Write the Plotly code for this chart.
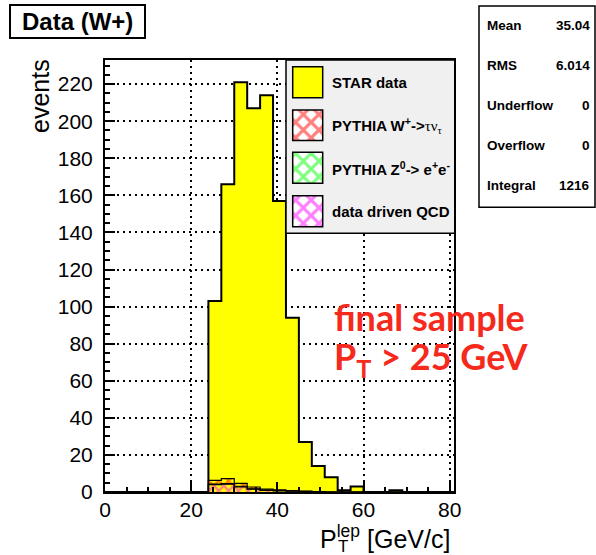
import numpy as np
import plotly.graph_objects as go

# ---------------- data ----------------
bin_width = 3
x_lo, x_hi = 0, 81
bin_edges = np.arange(x_lo, x_hi + bin_width, bin_width)  # 28 edges, 27 bins

star_data = [0, 0, 0, 0, 0, 0, 0, 0, 103, 166, 221, 207, 214, 157, 94, 27, 14, 8, 1, 3, 0, 0, 1, 0, 0, 0, 0]
qcd_data = [0, 0, 0, 0, 0, 0, 0, 0, 4.0, 4.2, 2.8, 1.5, 0.8, 0.6, 0.5, 0.3, 0.2, 0, 0, 0, 0, 0, 0, 0, 0, 0, 0]
z_ee_mc = [0, 0, 0, 0, 0, 0, 0, 0, 0.3, 0.3, 0.3, 0.2, 0.2, 0.2, 0.1, 0, 0, 0, 0, 0, 0, 0, 0, 0, 0, 0, 0]
w_taunu_mc = [0, 0, 0, 0, 0, 0, 0, 0, 2.0, 2.7, 1.6, 1.0, 0.5, 0.3, 0.1, 0, 0, 0, 0, 0, 0, 0, 0, 0, 0, 0, 0]

x_tick_vals = [0, 20, 40, 60, 80]
y_tick_vals = [0, 20, 40, 60, 80, 100, 120, 140, 160, 180, 200, 220]
y_max = 233

stats_labels = ["Mean", "RMS", "Underflow", "Overflow", "Integral"]
stats_values = ["35.04", "6.014", "0", "0", "1216"]

legend_labels = [
    "<b>STAR data</b>",
    "<b>PYTHIA W<sup>+</sup>-></b><span style=\"font-family:'Liberation Serif'\">τν<sub>τ</sub></span>",
    "<b>PYTHIA Z<sup>0</sup>-> e<sup>+</sup>e<sup>-</sup></b>",
    "<b>data driven QCD</b>",
]

# ---------------- geometry ----------------
W, H = 596, 555
ML, MR, MT, MB = 105, 142, 60, 63
PW, PH = W - ML - MR, H - MT - MB


def px(xp):
    return (xp - ML) / PW


def py(yp):
    return (H - MB - yp) / PH


FONT = "Liberation Sans"
YELLOW = "#ffff00"
RED = "#ff0000"
GREEN = "#00ff00"
MAGENTA = "#ff00ff"


def step_y(vals):
    v = list(vals)
    return v + [v[-1]]


cum1 = np.array(qcd_data)
cum2 = cum1 + np.array(z_ee_mc)
cum3 = cum2 + np.array(w_taunu_mc)

fig = go.Figure()

fig.add_trace(go.Scatter(
    x=bin_edges, y=step_y(star_data), mode="lines",
    line=dict(shape="hv", color="black", width=2),
    fill="tozeroy", fillcolor=YELLOW, showlegend=False, hoverinfo="skip"))

for vals, col, mode in [(cum1, MAGENTA, "tozeroy"), (cum2, GREEN, "tonexty"), (cum3, RED, "tonexty")]:
    fig.add_trace(go.Scatter(
        x=bin_edges, y=step_y(vals), mode="lines",
        line=dict(shape="hv", color="black", width=1.2),
        fill=mode, fillcolor="rgba(0,0,0,0)",
        fillpattern=dict(shape="x", fgcolor=col, bgcolor="rgba(0,0,0,0)", size=7, solidity=0.55),
        showlegend=False, hoverinfo="skip"))

# legend box and swatches (drawn in a helper subplot measured in pixels)
LB_X0, LB_X1, LB_Y0, LB_Y1 = 286, 455, 60, 233.3
fig.add_trace(go.Bar(
    x=[(LB_X0 + LB_X1) / 2], y=[LB_Y1 - LB_Y0], base=[LB_Y0], width=[LB_X1 - LB_X0],
    marker=dict(color="#f0f0f0", line=dict(color="black", width=1.5)),
    xaxis="x2", yaxis="y2", showlegend=False, hoverinfo="skip", cliponaxis=False))

sw_x0, sw_x1 = 292.7, 322.7
sw_rows = [(66.7, 97.7), (110, 140.5), (152.3, 183.3), (195.7, 226.7)]
sw_styles = [
    dict(color=YELLOW),
    dict(color="white", pattern=dict(shape="x", fgcolor=RED, bgcolor="white", size=11, solidity=0.5)),
    dict(color="white", pattern=dict(shape="x", fgcolor=GREEN, bgcolor="white", size=11, solidity=0.5)),
    dict(color="white", pattern=dict(shape="x", fgcolor=MAGENTA, bgcolor="white", size=11, solidity=0.5)),
]
for (r0, r1), st in zip(sw_rows, sw_styles):
    m = dict(st)
    m["line"] = dict(color="black", width=1.5)
    fig.add_trace(go.Bar(
        x=[(sw_x0 + sw_x1) / 2], y=[r1 - r0], base=[r0], width=[sw_x1 - sw_x0],
        marker=m, xaxis="x2", yaxis="y2", showlegend=False, hoverinfo="skip", cliponaxis=False))

axis_common = dict(
    showline=True, linecolor="black", linewidth=2, mirror=True,
    ticks="inside", ticklen=10, tickwidth=1.5, tickcolor="black",
    showgrid=True, gridcolor="black", gridwidth=1.5, griddash="2px,4px",
    zeroline=False, tickfont=dict(family=FONT, size=21, color="black"),
)

fig.update_layout(
    width=W, height=H,
    margin=dict(l=ML, r=MR, t=MT, b=MB, pad=0),
    paper_bgcolor="white", plot_bgcolor="rgba(0,0,0,0)",
    barmode="overlay", showlegend=False,
    xaxis=dict(range=[x_lo, x_hi], tickmode="array", tickvals=x_tick_vals,
               minor=dict(dtick=5, tick0=0, ticks="inside", ticklen=5, tickwidth=1.5,
                          tickcolor="black", showgrid=False),
               ticklabelstandoff=-2, **axis_common),
    yaxis=dict(range=[0, y_max], tickmode="array", tickvals=y_tick_vals,
               minor=dict(dtick=5, tick0=0, ticks="inside", ticklen=5, tickwidth=1.5,
                          tickcolor="black", showgrid=False),
               ticklabelstandoff=6, **axis_common),
    xaxis2=dict(domain=[px(280), 1.0], range=[280, W - MR], visible=False, anchor="y2",
                fixedrange=True),
    yaxis2=dict(domain=[py(240), 1.0], range=[240, MT], visible=False, anchor="x2",
                fixedrange=True),
)

shapes = []
# title box
shapes.append(dict(type="rect", xref="paper", yref="paper",
                   x0=px(10), x1=px(145), y0=py(38), y1=py(5),
                   fillcolor="white", line=dict(color="black", width=2), layer="above"))
# stats box
shapes.append(dict(type="rect", xref="paper", yref="paper",
                   x0=px(479), x1=px(595), y0=py(207.3), y1=py(6),
                   fillcolor="white", line=dict(color="black", width=1.5), layer="above"))
fig.update_layout(shapes=shapes)

ann = []
ann.append(dict(text="<b>Data (W+)</b>", x=px(77.5), y=py(21.5), xref="paper", yref="paper",
                xanchor="center", yanchor="middle", showarrow=False,
                font=dict(family=FONT, size=24, color="black")))
for i, (lab, val) in enumerate(zip(stats_labels, stats_values)):
    yc = 26 + 39.8 * i
    ann.append(dict(text="<b>%s</b>" % lab, x=px(485), y=py(yc), xref="paper", yref="paper",
                    xanchor="left", yanchor="middle", showarrow=False,
                    font=dict(family=FONT, size=13.5, color="black")))
    ann.append(dict(text="<b>%s</b>" % val, x=px(592), y=py(yc), xref="paper", yref="paper",
                    xanchor="right", yanchor="middle", showarrow=False,
                    font=dict(family=FONT, size=13.5, color="black")))
for lab, (r0, r1) in zip(legend_labels, sw_rows):
    ann.append(dict(text=lab, x=px(329.5), y=py((r0 + r1) / 2 + 0.5), xref="paper", yref="paper",
                    xanchor="left", yanchor="middle", showarrow=False,
                    font=dict(family=FONT, size=15, color="black")))
# axis titles
ann.append(dict(text="events", x=px(40), y=py(57), xref="paper", yref="paper",
                xanchor="center", yanchor="top", textangle=-90, showarrow=False,
                font=dict(family=FONT, size=25, color="black")))
ann.append(dict(text="P<sup>lep</sup> [GeV/c]", x=px(452), y=py(537), xref="paper", yref="paper",
                xanchor="right", yanchor="middle", showarrow=False,
                font=dict(family=FONT, size=25, color="black")))
ann.append(dict(text="T", x=px(336), y=py(546), xref="paper", yref="paper",
                xanchor="left", yanchor="middle", showarrow=False,
                font=dict(family=FONT, size=17, color="black")))
# red note
ann.append(dict(text="<b>final sample</b>", x=px(332), y=py(317), xref="paper", yref="paper",
                xanchor="left", yanchor="middle", showarrow=False,
                font=dict(family="Lato", size=36, color="#f52a1c")))
ann.append(dict(text="<b>P<sub>T</sub> > 25 GeV</b>", x=px(332), y=py(358), xref="paper", yref="paper",
                xanchor="left", yanchor="middle", showarrow=False,
                font=dict(family="Lato", size=36, color="#f52a1c")))
fig.update_layout(annotations=ann)

fig.write_html("out.html")
